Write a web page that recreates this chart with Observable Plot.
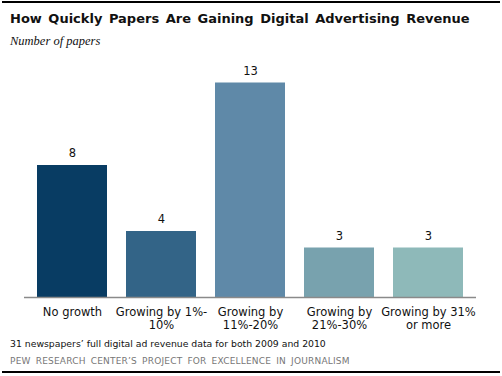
<!DOCTYPE html>
<html>
<head>
<meta charset="utf-8">
<script src="https://cdn.jsdelivr.net/npm/d3@7"></script>
<script src="https://cdn.jsdelivr.net/npm/@observablehq/plot@0.6"></script>
<style>
  html, body { margin: 0; padding: 0; background: #fff; }
  #wrap { position: relative; width: 502px; height: 376px; overflow: hidden; font-family: "DejaVu Sans", Verdana, sans-serif; }
  .rule { position: absolute; left: 2px; width: 498px; height: 2px; background: #000; }
  #title { position: absolute; left: 10px; top: 11px; font-weight: bold; font-size: 13px; color: #111; word-spacing: 2px; white-space: nowrap; }
  #subtitle { position: absolute; left: 10px; top: 34px; font-family: "Liberation Serif", "DejaVu Serif", serif; font-style: italic; font-size: 12.5px; color: #111; white-space: nowrap; }
  #chart { position: absolute; left: 0; top: 50px; }
  #note { position: absolute; left: 10px; top: 338px; font-size: 9.3px; color: #111; white-space: nowrap; }
  #source { position: absolute; left: 10px; top: 356px; font-size: 9px; color: #777; white-space: nowrap; letter-spacing: 0.2px; word-spacing: 2px; }
</style>
</head>
<body>
<div id="wrap">
  <div class="rule" style="top:1px"></div>
  <div id="title">How Quickly Papers Are Gaining Digital Advertising Revenue</div>
  <div id="subtitle">Number of papers</div>
  <div id="chart"></div>
  <div id="note">31 newspapers’ full digital ad revenue data for both 2009 and 2010</div>
  <div id="source">PEW RESEARCH CENTER’S PROJECT FOR EXCELLENCE IN JOURNALISM</div>
  <div class="rule" style="top:371px"></div>
</div>
<script>
const categories = ["No growth", "Growing by 1%-\n10%", "Growing by\n11%-20%", "Growing by\n21%-30%", "Growing by 31%\nor more"];
const values = [8, 4, 13, 3, 3];
const colors = ["#083c63", "#336487", "#5f89a8", "#78a2ae", "#8eb9b9"];

const data = categories.map((c, i) => ({category: c, value: values[i], color: colors[i]}));

const chart = Plot.plot({
  width: 502,
  height: 285,
  marginLeft: 24,
  marginRight: 26,
  marginTop: 32.5,
  marginBottom: 38,
  style: {fontFamily: "'DejaVu Sans', Verdana, sans-serif", background: "transparent"},
  x: {domain: categories, paddingInner: 0.21, paddingOuter: 0.122, label: null},
  y: {domain: [0, 13], axis: null},
  marks: [
    Plot.barY(data, {x: "category", y: "value", fill: "color"}),
    Plot.text(data, {x: "category", y: "value", text: d => String(d.value), dy: -12, fontSize: 11.5, fill: "#111"}),
    Plot.ruleY([0], {stroke: "#8a8a8a", strokeWidth: 1.5}),
    Plot.axisX({tickSize: 0, tickPadding: 9, fontSize: 11.5, lineHeight: 1.15, label: null, fill: "#111", textAnchor: "middle"})
  ]
});
document.getElementById("chart").appendChild(chart);
</script>
</body>
</html>
